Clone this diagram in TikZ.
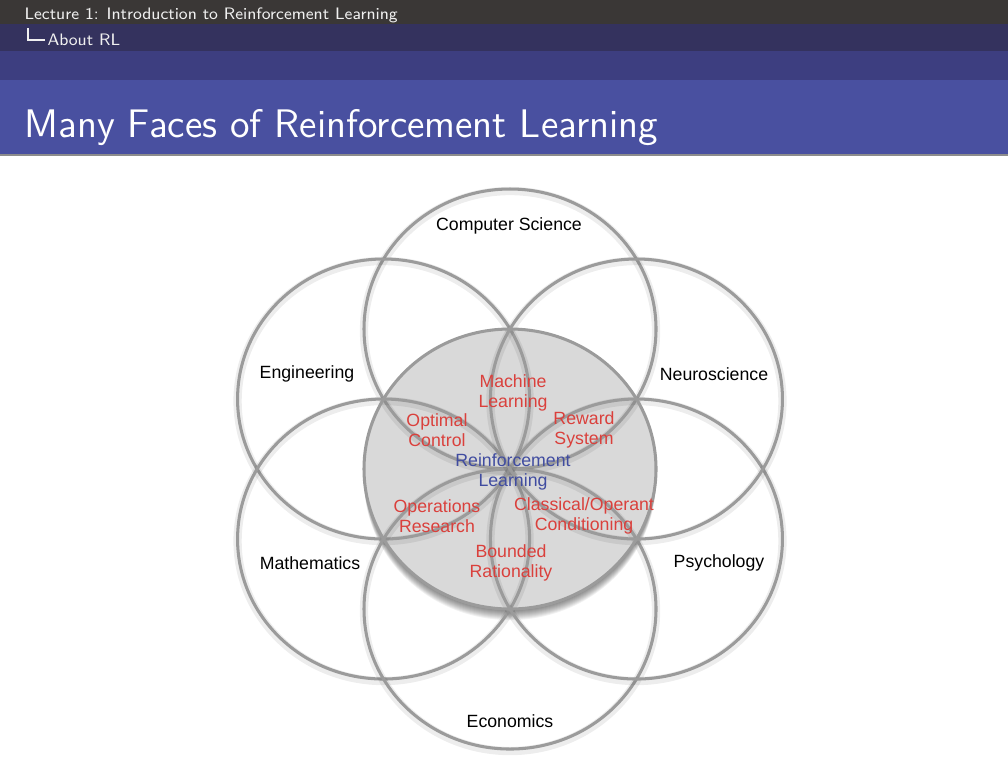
\documentclass[tikz,border=0pt]{standalone}
\usepackage{fontspec}
\newfontfamily\arialfont{Liberation Sans}
\definecolor{headgray}{RGB}{58,55,54}
\definecolor{subblue}{RGB}{52,50,94}
\definecolor{midblue}{RGB}{61,62,128}
\definecolor{titleblue}{RGB}{73,80,160}
\definecolor{rimgray}{RGB}{155,155,155}
\definecolor{fieldred}{RGB}{218,64,60}
\definecolor{rlblue}{RGB}{64,76,160}
\begin{document}
\begin{tikzpicture}[x=0.127mm,y=-0.127mm,
    rim/.style={draw=rimgray,line width=1.1pt},
    facelabel/.style={font=\arialfont\fontsize{6.4}{7.2}\selectfont,align=center,inner sep=0pt},
    overlap/.style={facelabel,text=fieldred},
    headtext/.style={anchor=base west,inner sep=0pt,text=white!88!gray}]
\useasboundingbox (0,0) rectangle (1008,756);
% head of the slide
\fill[headgray] (0,0) rectangle (1008,24);
\fill[subblue] (0,24) rectangle (1008,51);
\fill[midblue] (0,51) rectangle (1008,80);
\fill[titleblue] (0,80) rectangle (1008,154);
\fill[black!45] (0,154) rectangle (1008,156);
\node[headtext,font=\sffamily\fontsize{6}{7}\selectfont] (lect) at (24,19) {Lecture 1: Introduction to Reinforcement Learning};
\node[headtext,font=\sffamily\fontsize{6}{7}\selectfont] (sect) at (47,45) {About RL};
\draw[white!88!gray,line width=0.4pt] (sect.base west) ++(-19,-17) |- ++(17,12);
\node[headtext,text=white,font=\sffamily\fontsize{14.4}{17}\selectfont] (title) at (24,137) {Many Faces of Reinforcement Learning};
% shadow and disc in the middle
\foreach \s in {1,...,11}
    \fill[black,opacity=.055] (510,{469+\s}) ellipse[x radius=146,y radius=140];
\fill[black!15] (510,469) ellipse[x radius=146,y radius=140];
% the six fields round it
\foreach \a in {90,150,...,390}{
    \draw[black,opacity=.07,line width=3pt] ({510+146*cos(\a)},{471-140*sin(\a)}) ellipse[x radius=146,y radius=140];
    \draw[rim] ({510+146*cos(\a)},{469-140*sin(\a)}) ellipse[x radius=146,y radius=140];
}
\draw[rim] (510,469) ellipse[x radius=146,y radius=140];
\node[facelabel] (cs) at (509,226) {Computer Science};
\node[facelabel] (eng) at (307,374) {Engineering};
\node[facelabel] (neuro) at (714,374) {Neuroscience};
\node[facelabel] (math) at (310,563) {Mathematics};
\node[facelabel] (psych) at (719,563) {Psychology};
\node[facelabel] (econ) at (510,721) {Economics};
\node[overlap] (ml) at (513,393) {Machine\\Learning};
\node[overlap] (oc) at (437,430) {Optimal\\Control};
\node[overlap] (rs) at (584,430) {Reward\\System};
\node[facelabel,text=rlblue] (rl) at (513,472) {Reinforcement\\Learning};
\node[overlap] (or) at (437,516) {Operations\\Research};
\node[overlap] (cc) at (584,516) {Classical/Operant\\Conditioning};
\node[overlap] (br) at (511,563) {Bounded\\Rationality};
\end{tikzpicture}
\end{document}
